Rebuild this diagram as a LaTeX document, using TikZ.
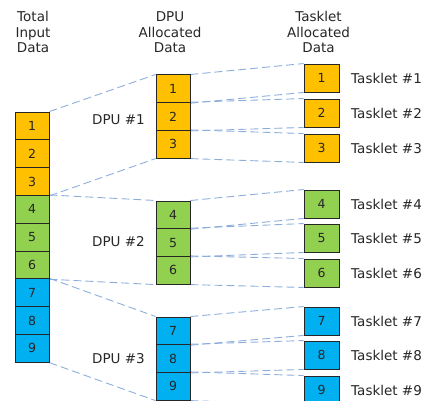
\documentclass[tikz,border=0pt]{standalone}
\usepackage{fontspec}
\setmainfont{DejaVu Sans}
\usetikzlibrary{backgrounds}
\definecolor{cellor}{HTML}{FFC000}
\definecolor{cellgr}{HTML}{92D050}
\definecolor{cellbl}{HTML}{00B0F0}
\definecolor{dashc}{HTML}{8DAEDB}
\definecolor{txtc}{HTML}{262626}
\begin{document}
\begin{tikzpicture}[x=1pt,y=-1pt,
  cell/.style={draw=black!85,line width=0.9pt,minimum width=34pt,minimum height=27.8pt,inner sep=0pt,font=\fontsize{12.5}{14}\selectfont,text=txtc},
  or/.style={cell,fill=cellor},
  gr/.style={cell,fill=cellgr},
  bl/.style={cell,fill=cellbl},
  hdr/.style={align=center,font=\fontsize{13.5}{15.5}\selectfont,text=txtc,anchor=north,inner sep=0pt},
  lbl/.style={font=\fontsize{13.5}{15}\selectfont,text=txtc,inner sep=0pt},
  dl/.style={draw=dashc,line width=0.9pt,dash pattern=on 8pt off 4pt}]
\useasboundingbox (0,0) rectangle (428,401);
% headers
\node[hdr] (h1) at (33,11.5) {Total\\Input\\Data};
\node[hdr] (h2) at (170,11.5) {DPU\\Allocated\\Data};
\node[hdr] (h3) at (318.5,11.5) {Tasklet\\Allocated\\Data};
% left column
\foreach \i/\s in {1/or,2/or,3/or,4/gr,5/gr,6/gr,7/bl,8/bl,9/bl}{
  \node[\s] (L\i) at (32,{112+27.8*(\i-0.5)}) {\i};
}
% DPU columns
\foreach \i/\s/\t in {1/or/75,2/or/75,3/or/75,4/gr/201,5/gr/201,6/gr/201,7/bl/317,8/bl/317,9/bl/317}{
  \pgfmathtruncatemacro{\k}{mod(\i-1,3)}
  \node[\s] (D\i) at (173,{\t+27.7*(\k+0.5)}) {\i};
}
% tasklet boxes
\foreach \i/\s/\t in {1/or/64,2/or/99,3/or/134,4/gr/190,5/gr/224,6/gr/259,7/bl/307,8/bl/341,9/bl/376}{
  \node[\s,minimum width=35pt,minimum height=28pt] (T\i) at (321.5,\t+14) {\i};
  \node[lbl,anchor=west] (TL\i) at (351,\t+14) {Tasklet \#\i};
}
% DPU labels
\node[lbl,anchor=east] (P1) at (145,120) {DPU \#1};
\node[lbl,anchor=east] (P2) at (145,242) {DPU \#2};
\node[lbl,anchor=east] (P3) at (145,359) {DPU \#3};
% dashed connectors
\begin{scope}[on background layer]
\draw[dl] (L1.north east) -- (D1.north west);
\draw[dl] (L3.south east) -- (D3.south west);
\draw[dl] (L4.north east) -- (D4.north west);
\draw[dl] (L6.south east) -- (D6.south west);
\draw[dl] (L7.north east) -- (D7.north west);
\draw[dl] (L9.south east) -- (D9.south west);
\foreach \i in {1,...,9}{
  \draw[dl] (D\i.north east) -- (T\i.north west);
  \draw[dl] (D\i.south east) -- (T\i.south west);
}
\end{scope}
\end{tikzpicture}
\end{document}
